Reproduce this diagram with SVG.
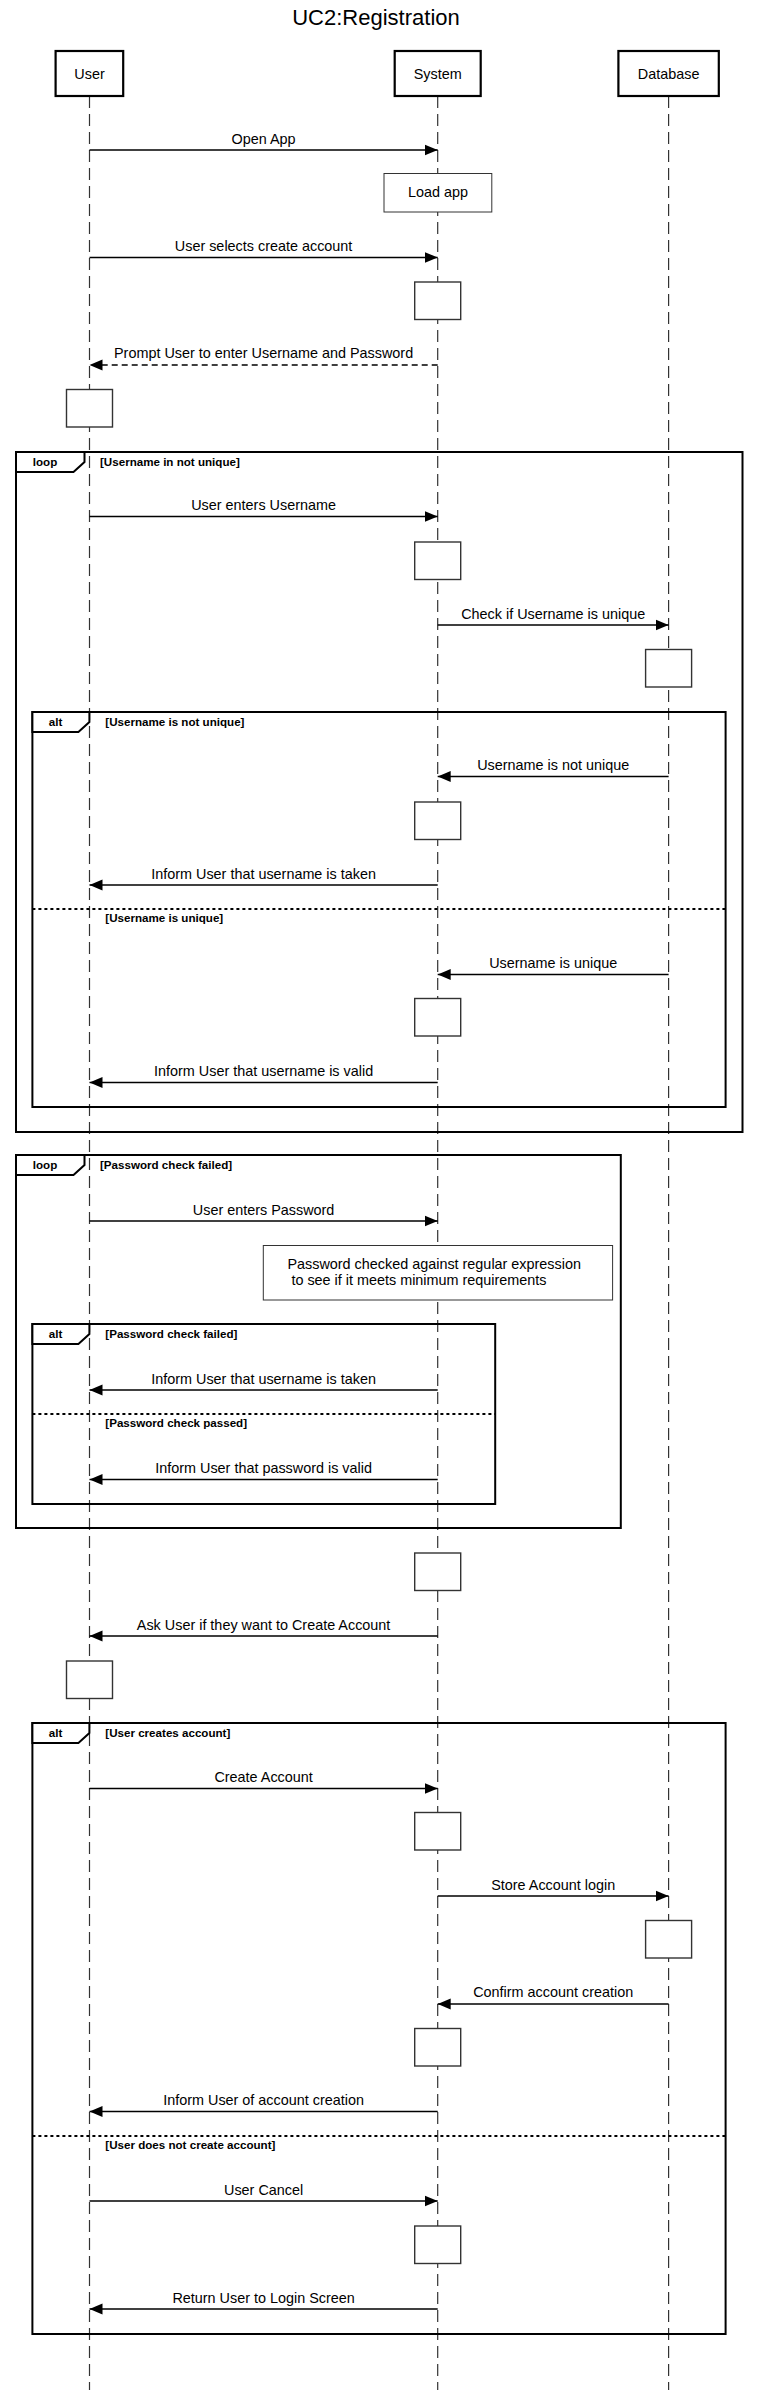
<svg xmlns="http://www.w3.org/2000/svg" width="758" height="2390" viewBox="0 0 758 2390">
<style>
text{font-family:"Liberation Sans",Arial,sans-serif;fill:#000}
.t{font-size:14.4px;text-anchor:middle}
.title{font-size:22px;text-anchor:middle}
.fl{font-size:11.6px;font-weight:bold}
.flc{font-size:11.6px;font-weight:bold;text-anchor:middle}
.head{fill:#fff;stroke:#000;stroke-width:2.2}
.life{stroke:#333;stroke-width:1.2;stroke-dasharray:12 6;fill:none}
.act{fill:#fff;stroke:#333;stroke-width:1.4}
.frame{fill:none;stroke:#000;stroke-width:2}
.tab{fill:#fff;stroke:#000;stroke-width:2}
.div{stroke:#000;stroke-width:2;stroke-dasharray:3 3}
.msg{stroke:#000;stroke-width:1.4;fill:none;marker-end:url(#arr)}
.ret{stroke:#000;stroke-width:1.4;fill:none;stroke-dasharray:6 4;marker-end:url(#arr)}
.box{fill:#fff;stroke:#333;stroke-width:1}
</style>
<defs>
<marker id="arr" markerUnits="userSpaceOnUse" markerWidth="14" markerHeight="13" refX="13" refY="6" orient="auto">
<path d="M0,0.5 L13,6 L0,11.5 Z" fill="#000"/>
</marker>
</defs>
<rect width="758" height="2390" fill="#fff"/>
<text class="title" x="376" y="25">UC2:Registration</text>

<g id="lifelines">
<line class="life" x1="89.5" y1="96" x2="89.5" y2="2390"/>
<line class="life" x1="437.7" y1="96" x2="437.7" y2="2390"/>
<line class="life" x1="668.6" y1="96" x2="668.6" y2="2390"/>
</g>

<g id="user">
<rect class="head" x="55.6" y="51" width="67.6" height="45"/>
<text class="t" x="89.5" y="79">User</text>
</g>
<g id="system">
<rect class="head" x="394.7" y="51" width="86" height="45"/>
<text class="t" x="437.7" y="79">System</text>
</g>
<g id="database">
<rect class="head" x="618.4" y="51" width="100.4" height="45"/>
<text class="t" x="668.6" y="79">Database</text>
</g>

<g id="frame-loop1">
<rect class="frame" x="16" y="452" width="726.5" height="680"/>
<path class="tab" d="M16,452 H84.5 V462 L73.5,472 H16 Z"/>
<text class="flc" x="45" y="465.5">loop</text>
<text class="fl" x="100" y="465.5">[Username in not unique]</text>
</g>
<g id="frame-alt1">
<rect class="frame" x="32.4" y="712" width="693.2" height="395"/>
<path class="tab" d="M32.4,712 H89.4 V722 L78.4,732 H32.4 Z"/>
<text class="flc" x="55.6" y="725.5">alt</text>
<text class="fl" x="105.3" y="725.5">[Username is not unique]</text>
<line class="div" x1="32.4" y1="909" x2="725.6" y2="909"/>
<text class="fl" x="105.3" y="922">[Username is unique]</text>
</g>
<g id="frame-loop2">
<rect class="frame" x="16" y="1155" width="604.8" height="373"/>
<path class="tab" d="M16,1155 H84.5 V1165 L73.5,1175 H16 Z"/>
<text class="flc" x="45" y="1168.5">loop</text>
<text class="fl" x="100" y="1168.5">[Password check failed]</text>
</g>
<g id="frame-alt2">
<rect class="frame" x="32.4" y="1324" width="462.8" height="180"/>
<path class="tab" d="M32.4,1324 H89.4 V1334 L78.4,1344 H32.4 Z"/>
<text class="flc" x="55.6" y="1337.5">alt</text>
<text class="fl" x="105.3" y="1337.5">[Password check failed]</text>
<line class="div" x1="32.4" y1="1414" x2="495.2" y2="1414"/>
<text class="fl" x="105.3" y="1427">[Password check passed]</text>
</g>
<g id="frame-alt3">
<rect class="frame" x="32.4" y="1723" width="693.2" height="611"/>
<path class="tab" d="M32.4,1723 H89.4 V1733 L78.4,1743 H32.4 Z"/>
<text class="flc" x="55.6" y="1736.5">alt</text>
<text class="fl" x="105.3" y="1736.5">[User creates account]</text>
<line class="div" x1="32.4" y1="2136" x2="725.6" y2="2136"/>
<text class="fl" x="105.3" y="2149">[User does not create account]</text>
</g>

<g id="load-app">
<rect class="box" x="384" y="173.5" width="107.8" height="38.5"/>
<text class="t" x="437.9" y="197">Load app</text>
</g>

<g id="note-password">
<rect class="box" x="263.3" y="1245.5" width="349.3" height="54.5"/>
<text style="font-size:14.4px" x="287.4" y="1268.5" xml:space="preserve">Password checked against regular expression</text>
<text style="font-size:14.4px" x="287.4" y="1285" xml:space="preserve"> to see if it meets minimum requirements</text>
</g>

<g id="activations">
<rect class="act" x="414.7" y="282" width="46" height="37.5"/>
<rect class="act" x="66.5" y="389.5" width="46" height="37.5"/>
<rect class="act" x="414.7" y="542" width="46" height="37.5"/>
<rect class="act" x="645.6" y="649.5" width="46" height="37.5"/>
<rect class="act" x="414.7" y="802" width="46" height="37.5"/>
<rect class="act" x="414.7" y="998.5" width="46" height="37.5"/>
<rect class="act" x="414.7" y="1553" width="46" height="37.5"/>
<rect class="act" x="66.5" y="1661" width="46" height="37.5"/>
<rect class="act" x="414.7" y="1812.5" width="46" height="37.5"/>
<rect class="act" x="645.6" y="1920.5" width="46" height="37.5"/>
<rect class="act" x="414.7" y="2028.5" width="46" height="37.5"/>
<rect class="act" x="414.7" y="2226" width="46" height="37.5"/>
</g>

<g id="connectors">
<line class="msg" x1="89.5" y1="150" x2="437.7" y2="150"/>
<text class="t" x="263.6" y="143.5">Open App</text>
<line class="msg" x1="89.5" y1="257.5" x2="437.7" y2="257.5"/>
<text class="t" x="263.6" y="250.5">User selects create account</text>
<line class="ret" x1="437.7" y1="365" x2="89.5" y2="365"/>
<text class="t" x="263.6" y="358">Prompt User to enter Username and Password</text>
<line class="msg" x1="89.5" y1="516.5" x2="437.7" y2="516.5"/>
<text class="t" x="263.6" y="510">User enters Username</text>
<line class="msg" x1="437.7" y1="625" x2="668.6" y2="625"/>
<text class="t" x="553.2" y="618.5">Check if Username is unique</text>
<line class="msg" x1="668.6" y1="776.5" x2="437.7" y2="776.5"/>
<text class="t" x="553.2" y="770">Username is not unique</text>
<line class="msg" x1="437.7" y1="885" x2="89.5" y2="885"/>
<text class="t" x="263.6" y="878.5">Inform User that username is taken</text>
<line class="msg" x1="668.6" y1="974.5" x2="437.7" y2="974.5"/>
<text class="t" x="553.2" y="968">Username is unique</text>
<line class="msg" x1="437.7" y1="1082.5" x2="89.5" y2="1082.5"/>
<text class="t" x="263.6" y="1076">Inform User that username is valid</text>
<line class="msg" x1="89.5" y1="1221" x2="437.7" y2="1221"/>
<text class="t" x="263.6" y="1214.5">User enters Password</text>
<line class="msg" x1="437.7" y1="1390" x2="89.5" y2="1390"/>
<text class="t" x="263.6" y="1383.5">Inform User that username is taken</text>
<line class="msg" x1="437.7" y1="1479.5" x2="89.5" y2="1479.5"/>
<text class="t" x="263.6" y="1473">Inform User that password is valid</text>
<line class="msg" x1="437.7" y1="1636" x2="89.5" y2="1636"/>
<text class="t" x="263.6" y="1629.5">Ask User if they want to Create Account</text>
<line class="msg" x1="89.5" y1="1788.5" x2="437.7" y2="1788.5"/>
<text class="t" x="263.6" y="1782">Create Account</text>
<line class="msg" x1="437.7" y1="1896" x2="668.6" y2="1896"/>
<text class="t" x="553.2" y="1889.5">Store Account login</text>
<line class="msg" x1="668.6" y1="2004" x2="437.7" y2="2004"/>
<text class="t" x="553.2" y="1997">Confirm account creation</text>
<line class="msg" x1="437.7" y1="2111.5" x2="89.5" y2="2111.5"/>
<text class="t" x="263.6" y="2105">Inform User of account creation</text>
<line class="msg" x1="89.5" y1="2201" x2="437.7" y2="2201"/>
<text class="t" x="263.6" y="2194.5">User Cancel</text>
<line class="msg" x1="437.7" y1="2309" x2="89.5" y2="2309"/>
<text class="t" x="263.6" y="2302.5">Return User to Login Screen</text>
</g>
</svg>
